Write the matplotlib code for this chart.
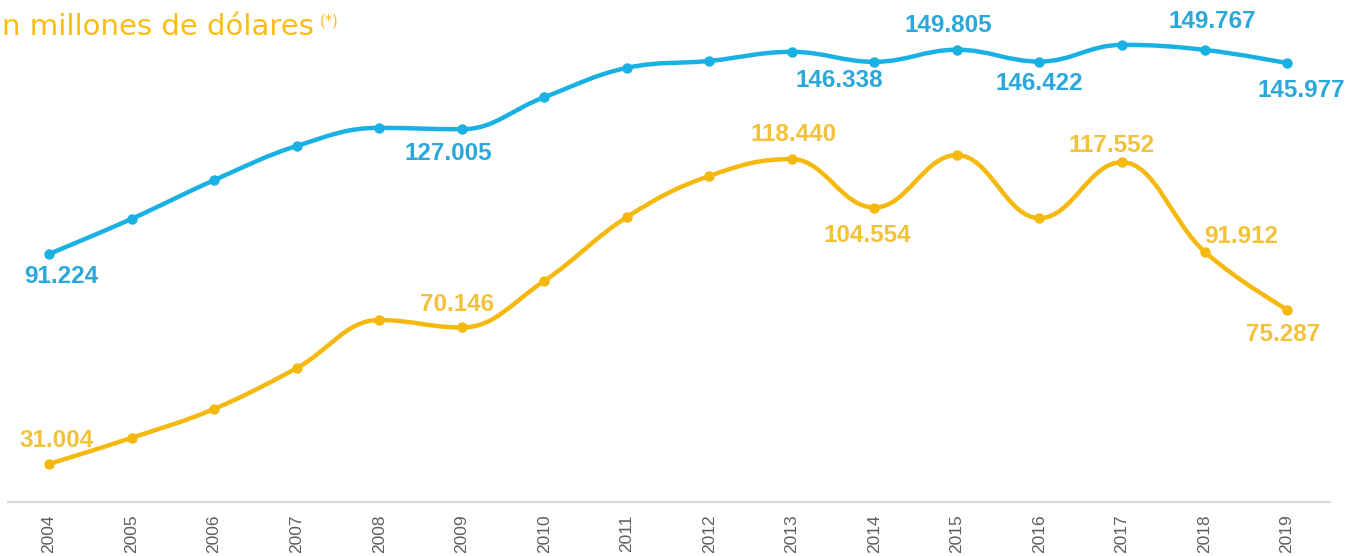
import numpy as np
import matplotlib
matplotlib.use("Agg")
import matplotlib.pyplot as plt
from matplotlib.path import Path
from matplotlib.patches import PathPatch

# data (millions of USD)
years = ["2004", "2005", "2006", "2007", "2008", "2009", "2010", "2011",
         "2012", "2013", "2014", "2015", "2016", "2017", "2018", "2019"]
serie_azul = [91.224, 101.3, 112.4, 122.2, 127.4, 127.005, 136.2, 144.6,
              146.6, 149.2, 146.338, 149.805, 146.422, 151.2, 149.767, 145.977]
serie_amarilla = [31.004, 38.5, 46.8, 58.5, 72.3, 70.146, 83.5, 101.8,
                  113.6, 118.440, 104.554, 119.6, 101.5, 117.552, 91.912, 75.287]

# which points get a value label and where (dx, dy in pixels)
labels_azul = {0: (12, -22), 5: (-13, -24), 10: (-35, -19), 11: (-9, 24),
               12: (0, -22), 14: (8, 28), 15: (14, -27)}
labels_amarilla = {0: (8, 23), 5: (-5, 23), 9: (2, 25), 10: (-7, -28),
                   13: (-10, 17), 14: (37, 15), 15: (-4, -25)}

AZUL = "#19b1e4"
AZUL_TXT = "#2aa8da"
AMARILLO = "#f5b90e"
AMARILLO_TXT = "#f1c23a"


def spline_path(xs, ys, smoothing=1.5):
    """Smooth path through the points (Highcharts-style spline)."""
    denom = smoothing + 1
    verts = [(xs[0], ys[0])]
    codes = [Path.MOVETO]
    right = (xs[0], ys[0])
    n = len(xs)
    for i in range(1, n):
        x, y = xs[i], ys[i]
        if i < n - 1:
            lx = (smoothing * x + xs[i - 1]) / denom
            ly = (smoothing * y + ys[i - 1]) / denom
            rx = (smoothing * x + xs[i + 1]) / denom
            ry = (smoothing * y + ys[i + 1]) / denom
            corr = (ry - ly) * (rx - x) / (rx - lx) + y - ry
            ly += corr
            ry += corr
            if ly > ys[i - 1] and ly > y:
                ly = max(ys[i - 1], y)
                ry = 2 * y - ly
            elif ly < ys[i - 1] and ly < y:
                ly = min(ys[i - 1], y)
                ry = 2 * y - ly
            if ry > ys[i + 1] and ry > y:
                ry = max(ys[i + 1], y)
                ly = 2 * y - ry
            elif ry < ys[i + 1] and ry < y:
                ry = min(ys[i + 1], y)
                ly = 2 * y - ry
        else:
            lx, ly, rx, ry = x, y, x, y
        verts += [right, (lx, ly), (x, y)]
        codes += [Path.CURVE4, Path.CURVE4, Path.CURVE4]
        right = (rx, ry)
    return Path(verts, codes)


fig = plt.figure(figsize=(13.47, 5.56), dpi=100)
ax = fig.add_axes([8 / 1347, 1 - 502 / 556, 1322 / 1347, 502 / 556])

x = np.arange(len(years))
for vals, col in [(serie_azul, AZUL), (serie_amarilla, AMARILLO)]:
    ax.add_patch(PathPatch(spline_path(x, vals), facecolor="none",
                           edgecolor=col, lw=3.2, capstyle="round",
                           joinstyle="round"))
    ax.plot(x, vals, "o", color=col, ms=6.5, mec=col)

for lab, vals, col in [(labels_azul, serie_azul, AZUL_TXT),
                       (labels_amarilla, serie_amarilla, AMARILLO_TXT)]:
    for i, off in lab.items():
        txt = f"{vals[i]:.3f}"
        ax.annotate(txt, (x[i], vals[i]), xytext=(off[0] * 0.72, off[1] * 0.72),
                    textcoords="offset points", ha="center", va="center",
                    color=col, fontsize=17.5, fontweight="bold",
                    family="Liberation Sans")

ax.set_xlim(-0.497, 15.52)
ax.set_ylim(20.1, 164.07)
ax.set_xticks(x)
ax.set_xticklabels(years, rotation=90, color="#5e5e5e", fontsize=12.5,
                   family="Liberation Sans")
ax.tick_params(axis="x", length=0, pad=9)
ax.set_yticks([])
for s in ["top", "right", "left"]:
    ax.spines[s].set_visible(False)
ax.spines["bottom"].set_color("#d8d8d8")
ax.spines["bottom"].set_linewidth(1.5)

# subtitle (its first line is cropped in the source)
fig.text(2 / 1347, 1 - 35 / 556, "n millones de dólares", color="#fbbd12",
         fontsize=21, family="DejaVu Sans", ha="left", va="baseline")
fig.text(320 / 1347, 1 - 25 / 556, "(*)", color="#fbbd12",
         fontsize=10.5, family="DejaVu Sans", ha="left", va="baseline")

fig.savefig("out.png", dpi=100)
